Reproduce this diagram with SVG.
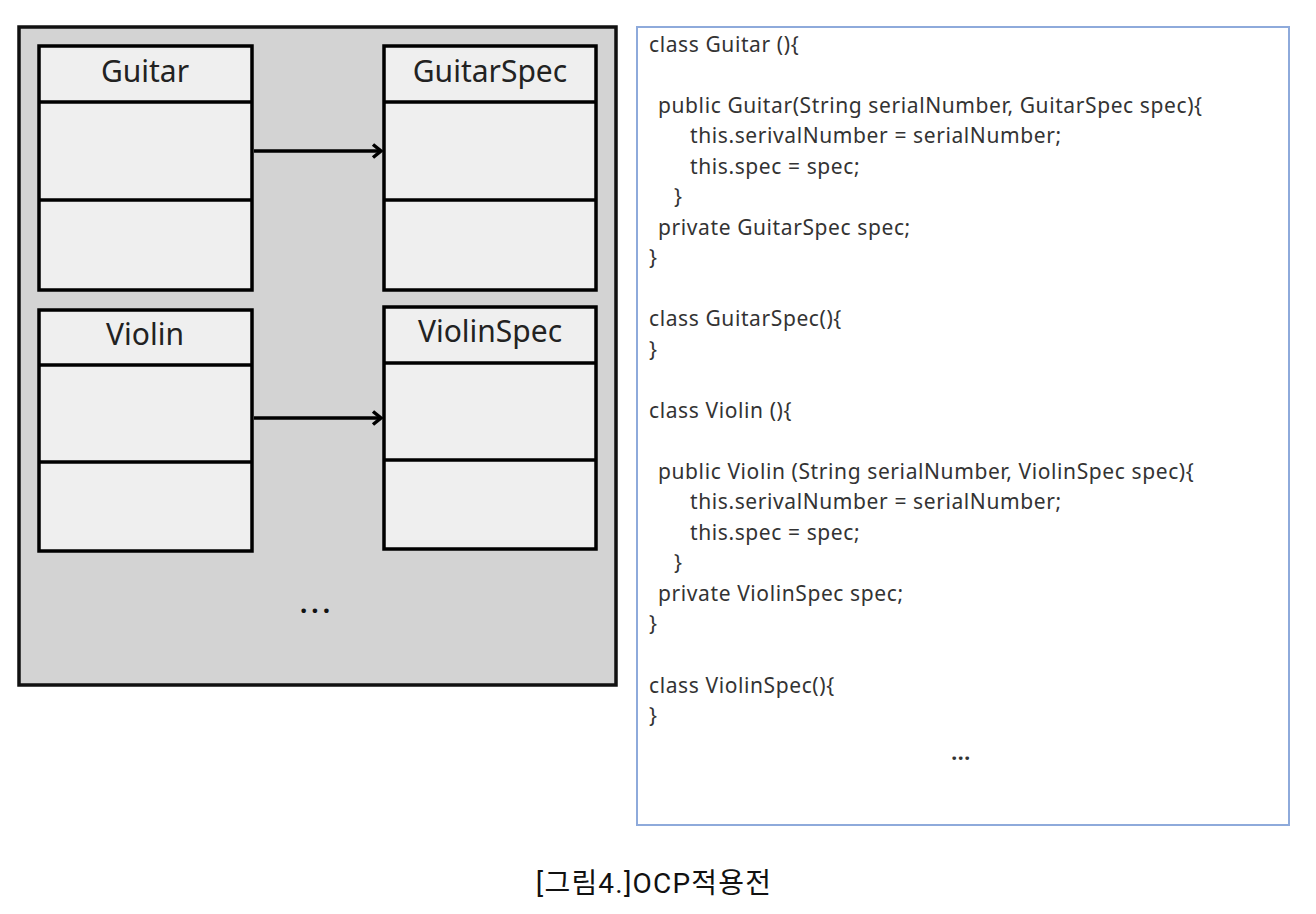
<svg xmlns="http://www.w3.org/2000/svg" width="1316" height="914" viewBox="0 0 1316 914">
<defs>
<style>
.cls{fill:#efefef;stroke:#000;stroke-width:3.5}
.div{stroke:#000;stroke-width:3.5}
.lbl{font-family:"Noto Sans","Open Sans",sans-serif;font-size:30px;fill:#222;text-anchor:middle}
.code{font-family:"Noto Sans","Open Sans",sans-serif;font-size:21px;letter-spacing:0.6px;fill:#333}
.conn{stroke:#000;stroke-width:3.5;fill:none}
</style>
<marker id="arr" markerWidth="14" markerHeight="16" refX="11" refY="8" orient="auto" markerUnits="userSpaceOnUse">
<path d="M3,1.5 L11,8 L3,14.5" fill="none" stroke="#000" stroke-width="3.5"/>
</marker>
</defs>
<rect width="1316" height="914" fill="#fff"/>
<g id="container">
<rect x="19" y="27" width="597" height="658" fill="#d3d3d3" stroke="#111" stroke-width="3.5"/>
<text x="317" y="613" font-family="Noto Sans, sans-serif" font-size="26" fill="#111" text-anchor="middle" font-weight="bold" letter-spacing="4">...</text>
</g>
<g id="Guitar">
<rect class="cls" x="39" y="46" width="213" height="244"/>
<line class="div" x1="39" y1="102" x2="252" y2="102"/>
<line class="div" x1="39" y1="200" x2="252" y2="200"/>
<text class="lbl" x="145" y="82">Guitar</text>
</g>
<g id="GuitarSpec">
<rect class="cls" x="384" y="46" width="212" height="244"/>
<line class="div" x1="384" y1="102" x2="596" y2="102"/>
<line class="div" x1="384" y1="200" x2="596" y2="200"/>
<text class="lbl" x="490" y="82">GuitarSpec</text>
</g>
<g id="Violin">
<rect class="cls" x="39" y="310" width="213" height="241"/>
<line class="div" x1="39" y1="365" x2="252" y2="365"/>
<line class="div" x1="39" y1="462" x2="252" y2="462"/>
<text class="lbl" x="145" y="345">Violin</text>
</g>
<g id="ViolinSpec">
<rect class="cls" x="384" y="307" width="212" height="242"/>
<line class="div" x1="384" y1="363" x2="596" y2="363"/>
<line class="div" x1="384" y1="460" x2="596" y2="460"/>
<text class="lbl" x="490" y="342">ViolinSpec</text>
</g>
<g id="connectors">
<line class="conn" x1="254" y1="151" x2="381" y2="151" marker-end="url(#arr)"/>
<line class="conn" x1="254" y1="418" x2="381" y2="418" marker-end="url(#arr)"/>
</g>
<g id="code">
<rect x="637" y="27" width="652" height="798" fill="#fff" stroke="#8eaadb" stroke-width="2"/>
<text class="code" x="649" y="52">class Guitar ()&#123;</text>
<text class="code" x="658" y="113">public Guitar(String serialNumber, GuitarSpec spec)&#123;</text>
<text class="code" x="690" y="143">this.serivalNumber = serialNumber;</text>
<text class="code" x="690" y="174">this.spec = spec;</text>
<text class="code" x="674" y="204">&#125;</text>
<text class="code" x="658" y="235">private GuitarSpec spec;</text>
<text class="code" x="649" y="265">&#125;</text>
<text class="code" x="649" y="326">class GuitarSpec()&#123;</text>
<text class="code" x="649" y="357">&#125;</text>
<text class="code" x="649" y="418">class Violin ()&#123;</text>
<text class="code" x="658" y="479">public Violin (String serialNumber, ViolinSpec spec)&#123;</text>
<text class="code" x="690" y="509">this.serivalNumber = serialNumber;</text>
<text class="code" x="690" y="540">this.spec = spec;</text>
<text class="code" x="674" y="570">&#125;</text>
<text class="code" x="658" y="601">private ViolinSpec spec;</text>
<text class="code" x="649" y="631">&#125;</text>
<text class="code" x="649" y="693">class ViolinSpec()&#123;</text>
<text class="code" x="649" y="723">&#125;</text>
<text class="code" x="961" y="760" text-anchor="middle" font-weight="bold" fill="#111" letter-spacing="0">...</text>
</g>
<g id="caption">
<text x="654" y="893" font-family="Roboto,'Noto Sans CJK KR',sans-serif" font-size="28" letter-spacing="1.2" fill="#111" text-anchor="middle">[그림4.]OCP적용전</text>
</g>
</svg>
